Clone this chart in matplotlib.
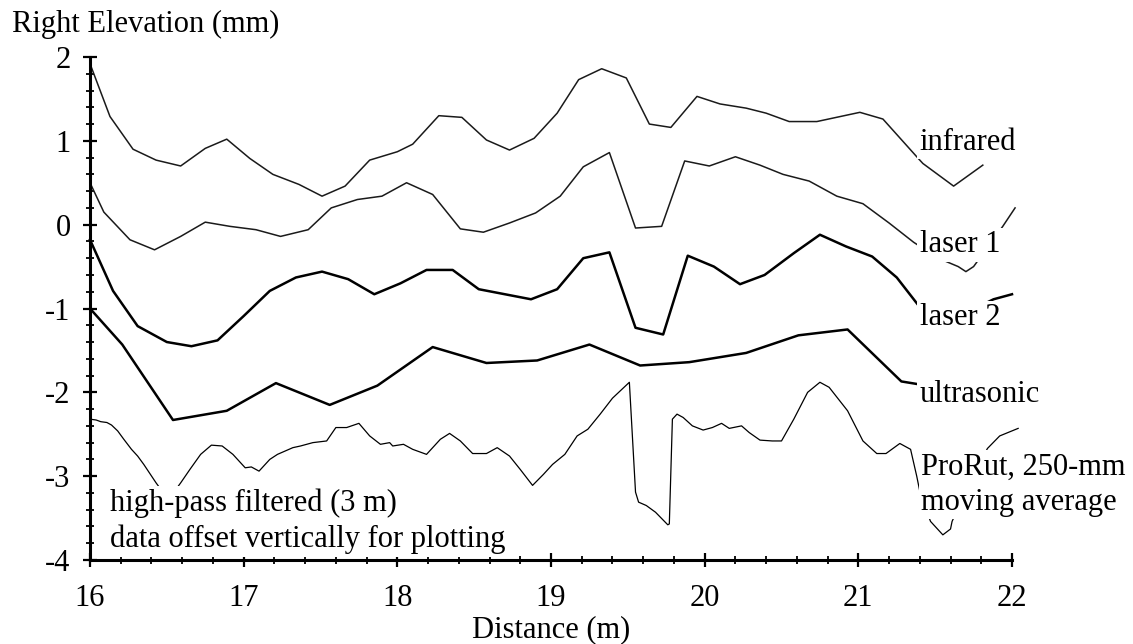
import matplotlib
matplotlib.use("Agg")
import matplotlib.pyplot as plt
from matplotlib.ticker import MultipleLocator

plt.rcParams["font.family"] = ["Liberation Serif", "DejaVu Serif"]
plt.rcParams["axes.unicode_minus"] = False

# Right-wheelpath elevation profiles (mm), high-pass filtered and offset
infrared_x = [16.00, 16.13, 16.28, 16.43, 16.59, 16.75, 16.89, 17.04, 17.19, 17.36,
              17.51, 17.66, 17.82, 18.00, 18.10, 18.27, 18.42, 18.58, 18.73, 18.89,
              19.04, 19.18, 19.33, 19.49, 19.64, 19.78, 19.95, 20.10, 20.27, 20.40,
              20.55, 20.73, 21.01, 21.16, 21.39, 21.42, 21.62, 21.81]
infrared_y = [1.92, 1.29, 0.90, 0.77, 0.70, 0.91, 1.02, 0.79, 0.60, 0.48,
              0.34, 0.46, 0.77, 0.87, 0.96, 1.30, 1.28, 1.01, 0.89, 1.03,
              1.33, 1.73, 1.86, 1.75, 1.20, 1.16, 1.53, 1.44, 1.39, 1.33,
              1.23, 1.23, 1.34, 1.26, 0.79, 0.73, 0.46, 0.71]

laser1_x = [16.00, 16.09, 16.26, 16.42, 16.59, 16.75, 16.91, 17.08, 17.24, 17.42,
            17.57, 17.74, 17.90, 18.06, 18.23, 18.41, 18.56, 18.73, 18.90, 19.06,
            19.21, 19.38, 19.55, 19.72, 19.87, 20.03, 20.20, 20.36, 20.51, 20.68,
            20.86, 21.03, 21.20, 21.36, 21.52, 21.65, 21.70, 21.75, 21.94, 22.02]
laser1_y = [0.50, 0.15, -0.18, -0.30, -0.14, 0.03, -0.02, -0.06, -0.14, -0.06,
            0.20, 0.30, 0.34, 0.50, 0.36, -0.05, -0.09, 0.02, 0.14, 0.34,
            0.69, 0.86, -0.04, -0.02, 0.76, 0.70, 0.81, 0.71, 0.60, 0.52,
            0.34, 0.25, 0.02, -0.21, -0.40, -0.50, -0.56, -0.50, -0.02, 0.20]

laser2_x = [16.00, 16.15, 16.31, 16.50, 16.66, 16.83, 17.00, 17.17, 17.34, 17.51,
            17.68, 17.85, 18.02, 18.19, 18.36, 18.53, 18.70, 18.87, 19.04, 19.21,
            19.38, 19.55, 19.73, 19.89, 20.06, 20.23, 20.39, 20.58, 20.75, 20.92,
            21.09, 21.25, 21.39, 21.70, 21.88, 22.00]
laser2_y = [-0.18, -0.79, -1.21, -1.40, -1.45, -1.38, -1.09, -0.79, -0.63, -0.56,
            -0.65, -0.83, -0.70, -0.54, -0.54, -0.77, -0.83, -0.89, -0.77, -0.40,
            -0.33, -1.23, -1.31, -0.37, -0.50, -0.71, -0.60, -0.34, -0.12, -0.26,
            -0.38, -0.63, -0.96, -1.05, -0.89, -0.83]

ultrasonic_x = [16.00, 16.21, 16.54, 16.89, 17.21, 17.56, 17.87, 18.23, 18.58, 18.91,
                19.25, 19.58, 19.90, 20.27, 20.61, 20.93, 21.28, 21.38, 21.50]
ultrasonic_y = [-1.00, -1.43, -2.33, -2.22, -1.89, -2.15, -1.92, -1.46, -1.65, -1.62,
                -1.43, -1.68, -1.64, -1.53, -1.32, -1.25, -1.87, -1.90, -1.93]

prorut_x = [16.00, 16.04, 16.07, 16.11, 16.14, 16.18, 16.22, 16.27, 16.31, 16.35,
            16.39, 16.43, 16.51, 16.59, 16.65, 16.72, 16.79, 16.86, 16.93, 17.01,
            17.05, 17.10, 17.17, 17.22, 17.27, 17.32, 17.37, 17.45, 17.54, 17.60,
            17.67, 17.75, 17.82, 17.89, 17.95, 17.97, 18.04, 18.10, 18.19, 18.23,
            18.28, 18.34, 18.41, 18.49, 18.58, 18.65, 18.73, 18.80, 18.88, 18.95,
            19.01, 19.09, 19.17, 19.24, 19.32, 19.40, 19.51, 19.55, 19.57, 19.62,
            19.68, 19.76, 19.77, 19.79, 19.82, 19.86, 19.92, 19.99, 20.05, 20.11,
            20.16, 20.24, 20.29, 20.36, 20.44, 20.50, 20.58, 20.67, 20.75, 20.81,
            20.93, 21.03, 21.12, 21.18, 21.27, 21.34, 21.38, 21.40, 21.44, 21.47,
            21.55, 21.60, 21.61, 21.72, 21.84, 21.92, 22.04]
prorut_y = [-2.32, -2.33, -2.35, -2.36, -2.39, -2.46, -2.56, -2.68, -2.76, -2.86,
            -2.97, -3.08, -3.28, -3.08, -2.92, -2.74, -2.63, -2.64, -2.74, -2.90,
            -2.89, -2.94, -2.80, -2.74, -2.70, -2.66, -2.64, -2.60, -2.58, -2.42,
            -2.42, -2.37, -2.52, -2.62, -2.60, -2.64, -2.62, -2.68, -2.74, -2.66,
            -2.56, -2.49, -2.58, -2.73, -2.73, -2.66, -2.76, -2.92, -3.11, -2.98,
            -2.86, -2.74, -2.52, -2.44, -2.26, -2.07, -1.88, -3.19, -3.31, -3.35,
            -3.43, -3.58, -3.57, -2.32, -2.26, -2.30, -2.40, -2.45, -2.42, -2.37,
            -2.43, -2.40, -2.48, -2.57, -2.58, -2.58, -2.32, -2.00, -1.88, -1.94,
            -2.22, -2.58, -2.73, -2.73, -2.61, -2.68, -3.00, -3.18, -3.40, -3.54,
            -3.70, -3.63, -3.54, -3.10, -2.67, -2.52, -2.43]

x_ticks = [16, 17, 18, 19, 20, 21, 22]
y_ticks = [-4, -3, -2, -1, 0, 1, 2]

fig = plt.figure(figsize=(11.33, 6.44), dpi=100)
ax = fig.add_axes([90 / 1133, 84 / 644, 922 / 1133, 503 / 644])

thin = dict(color="#1a1a1a", lw=1.1, solid_joinstyle="round", clip_on=False)
thick = dict(color="black", lw=1.8, solid_joinstyle="round", clip_on=False)
ax.plot(infrared_x, infrared_y, **thin)
ax.plot(laser1_x, laser1_y, **thin)
ax.plot(laser2_x, laser2_y, **thick)
ax.plot(ultrasonic_x, ultrasonic_y, **thick)
ax.plot(prorut_x, prorut_y, color="black", lw=0.9, clip_on=False)

ax.set_xlim(16, 22)
ax.set_ylim(-4, 2)
ax.set_xticks(x_ticks)
ax.set_yticks(y_ticks)
ax.xaxis.set_minor_locator(MultipleLocator(0.2))
ax.yaxis.set_minor_locator(MultipleLocator(0.2))

for side in ("top", "right"):
    ax.spines[side].set_visible(False)
for side in ("left", "bottom"):
    ax.spines[side].set_linewidth(2.2)

ax.tick_params(which="major", direction="inout", length=10, width=1.6,
               labelsize=22)
ax.tick_params(which="minor", direction="inout", length=5.5, width=1.3)
ax.tick_params(axis="x", which="major", pad=12)
ax.tick_params(axis="y", which="major", pad=9)

ax.set_xlabel("Distance (m)", fontsize=22, labelpad=2)
fig.text(12 / 1133, 1 - 24 / 644, "Right Elevation (mm)", fontsize=22,
         ha="left", va="center")

box = dict(boxstyle="square,pad=0.08", facecolor="white", edgecolor="none")
label_kw = dict(fontsize=22, ha="left", va="center", bbox=box, zorder=5,
                linespacing=1.28)
ax.text(21.40, 0.98, "infrared", **label_kw)
ax.text(21.40, -0.24, "laser 1", **label_kw)
ax.text(21.40, -1.11, "laser 2", **label_kw)
ax.text(21.40, -2.02, "ultrasonic", **label_kw)
ax.text(21.41, -3.10, "ProRut, 250-mm\nmoving average", **label_kw)
ax.text(16.13, -3.54, "high-pass filtered (3 m)\ndata offset vertically for plotting",
        **label_kw)

fig.savefig("out.png", dpi=100, facecolor="white")
